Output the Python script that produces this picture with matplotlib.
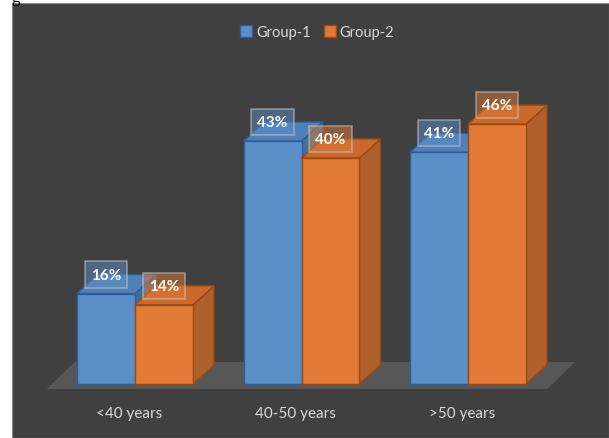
import numpy as np
import matplotlib.pyplot as plt
from matplotlib.patches import Polygon, Rectangle
from matplotlib.lines import Line2D

categories = ['<40 years', '40-50 years', '>50 years']
group1 = [16, 43, 41]
group2 = [14, 40, 46]
series_names = ['Group-1', 'Group-2']

blue = {'front': '#5b8fc8', 'top': '#4f80b8', 'side': '#41709f', 'edge': '#2f5f96'}
orange = {'front': '#e07a36', 'top': '#c9692c', 'side': '#b0612b', 'edge': '#9a4a14'}
bg = '#404040'

fig = plt.figure(figsize=(6.09, 4.39), dpi=100)
fig.patch.set_facecolor('white')
fig.patches.append(Rectangle((12 / 609, 0), 597 / 609, 435 / 439, transform=fig.transFigure,
                             facecolor=bg, edgecolor='#8a8a8a', linewidth=0.8, zorder=-5))
fig.text(0.018, 1.005, 'g', fontsize=12, color='black', va='center', family='Liberation Serif')

ax = fig.add_axes([12 / 609, 0, 597 / 609, 435 / 439])
ax.set_xlim(-0.7387, 2.8468)
ax.set_ylim(-9.56, 67.43)
ax.axis('off')

w = 0.348   # bar width
dx = 0.126  # depth offset x
dy = 3.36   # depth offset y

# floor
fx0, fx1, fy = -0.53, 2.475, -0.9
ax.add_patch(Polygon([(fx0, fy), (fx1, fy), (fx1 + 0.168, fy + 4.8), (fx0 + 0.168, fy + 4.8)],
                     closed=True, facecolor='#575757', edgecolor='none', zorder=1))


def draw_bar(x0, h, c, z):
    ax.add_patch(Polygon([(x0 + w, 0), (x0 + w + dx, dy), (x0 + w + dx, h + dy), (x0 + w, h)],
                         closed=True, facecolor=c['side'], edgecolor=c['edge'], lw=1, zorder=z))
    ax.add_patch(Polygon([(x0, h), (x0 + w, h), (x0 + w + dx, h + dy), (x0 + dx, h + dy)],
                         closed=True, facecolor=c['top'], edgecolor=c['edge'], lw=1, zorder=z))
    ax.bar(x0, h, width=w, align='edge', color=c['front'], edgecolor=c['edge'], lw=1, zorder=z)


x = np.arange(len(categories))
for i in x:
    draw_bar(i - w, group1[i], blue, 2 + i * 2)
    draw_bar(i, group2[i], orange, 3 + i * 2)

label_box = dict(boxstyle='square,pad=0.4', linewidth=1.3)
for i in x:
    for off, val, col in [(-w / 2, group1[i], '#5b8fc8'), (w / 2, group2[i], '#e07a36')]:
        ax.text(i + off, val + dy, f'{val}%', ha='center', va='center', color='white',
                fontsize=11, fontweight='bold', family='Lato', zorder=20,
                bbox=dict(label_box, facecolor=col, alpha=0.5, edgecolor='#c8c8c8'))

for i, cat in enumerate(categories):
    ax.text(i - 0.035, -5.2, cat, ha='center', va='center', color='#d9d9d9',
            fontsize=11, family='Lato')

handles = [Line2D([], [], marker='s', linestyle='none', markersize=8,
                  markerfacecolor=blue['front'], markeredgecolor=blue['edge']),
           Line2D([], [], marker='s', linestyle='none', markersize=8,
                  markerfacecolor=orange['front'], markeredgecolor=orange['edge'])]
leg = fig.legend(handles, series_names, loc='center', bbox_to_anchor=(0.522, 0.925),
                 ncol=2, frameon=False, handlelength=0.6, handletextpad=0.4,
                 columnspacing=1.0, prop={'family': 'Lato', 'size': 10.5})
for t in leg.get_texts():
    t.set_color('#d9d9d9')

fig.savefig('out.png', dpi=100, facecolor=fig.get_facecolor())
